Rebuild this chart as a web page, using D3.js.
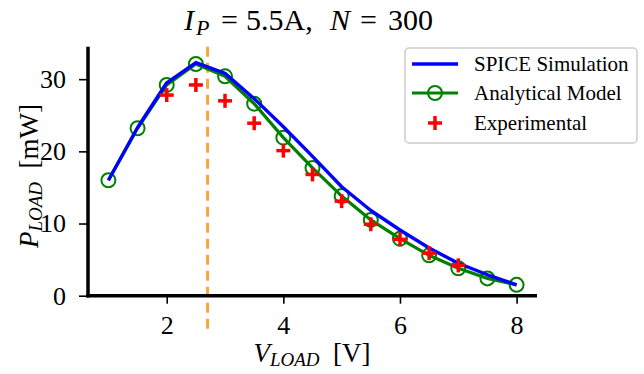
<!DOCTYPE html>
<html>
<head>
<meta charset="utf-8">
<script src="https://cdn.jsdelivr.net/npm/d3@7"></script>
<style>
  body { margin: 0; background: #fff; }
  text { font-family: 'Liberation Serif', 'DejaVu Serif', serif; fill: #000; }
</style>
</head>
<body>
<svg id="chart" width="644" height="374"></svg>
<script>
// data
var vLoad = [1, 1.5, 2, 2.5, 3, 3.5, 4, 4.5, 5, 5.5, 6, 6.5, 7, 7.5, 8];
var spice = [16.0, 23.3, 29.5, 32.3, 30.8, 27.3, 23.4, 19.3, 15.1, 11.8, 9.1, 6.6, 4.5, 2.9, 1.5];
var analytical = [16.0, 23.2, 29.2, 32.1, 30.4, 26.6, 21.9, 17.7, 13.8, 10.5, 7.9, 5.6, 3.8, 2.4, 1.5];
var expV = [2, 2.5, 3, 3.5, 4, 4.5, 5, 5.5, 6, 6.5, 7];
var experimental = [27.8, 29.2, 27.0, 23.9, 20.1, 16.8, 13.1, 9.9, 7.8, 5.9, 4.2];
var xTicks = [2, 4, 6, 8];
var yTicks = [0, 10, 20, 30];
var vOpt = 2.7;

var serif = "'Liberation Serif', 'DejaVu Serif', serif";
var svg = d3.select("#chart");

var x = d3.scaleLinear().domain([0.65, 8.35]).range([88, 537]);
var y = d3.scaleLinear().domain([0, 34.5]).range([295.7, 46.7]);

// optimum voltage marker
svg.append("line")
  .attr("x1", x(vOpt)).attr("x2", x(vOpt))
  .attr("y1", y(34.5)).attr("y2", 334)
  .attr("stroke", "#f5a83c").attr("stroke-width", 3)
  .attr("stroke-dasharray", "10,6");

// axes
var xAxis = svg.append("g").attr("transform", "translate(0," + y(0) + ")")
  .call(d3.axisBottom(x).tickValues(xTicks).tickSize(8).tickPadding(12).tickFormat(d3.format("d")));
var yAxis = svg.append("g").attr("transform", "translate(" + x(0.65) + ",0)")
  .call(d3.axisLeft(y).tickValues(yTicks).tickSize(9).tickPadding(13).tickFormat(d3.format("d")));

[xAxis, yAxis].forEach(function(g) {
  g.attr("font-family", null).attr("font-size", null);
  g.select(".domain").remove();
  g.selectAll(".tick line").attr("stroke", "#000").attr("stroke-width", 1.6);
  g.selectAll(".tick text").style("font-size", "26px").style("font-family", serif);
});

// spines
svg.append("line").attr("x1", x(0.65)).attr("x2", x(0.65)).attr("y1", y(0) + 1.75).attr("y2", y(34.5))
  .attr("stroke", "#000").attr("stroke-width", 3.5);
svg.append("line").attr("x1", x(0.65) - 1.75).attr("x2", x(8.35)).attr("y1", y(0)).attr("y2", y(0))
  .attr("stroke", "#000").attr("stroke-width", 3.5);

var line = d3.line().x(function(d) { return x(d[0]); }).y(function(d) { return y(d[1]); });

// analytical model
var anaPts = vLoad.map(function(v, i) { return [v, analytical[i]]; });
svg.append("path").datum(anaPts).attr("d", line)
  .attr("fill", "none").attr("stroke", "#008000").attr("stroke-width", 3.2);
svg.selectAll(".ana").data(anaPts).enter().append("circle")
  .attr("cx", function(d) { return x(d[0]); })
  .attr("cy", function(d) { return y(d[1]); })
  .attr("r", 7).attr("fill", "none").attr("stroke", "#008000").attr("stroke-width", 2);

// spice simulation
var spPts = vLoad.map(function(v, i) { return [v, spice[i]]; });
svg.append("path").datum(spPts).attr("d", line)
  .attr("fill", "none").attr("stroke", "#0000ff").attr("stroke-width", 3.4)
  .attr("stroke-linejoin", "round");

// experimental
function plus(g, cx, cy, s) {
  g.append("line").attr("x1", cx - s).attr("x2", cx + s).attr("y1", cy).attr("y2", cy);
  g.append("line").attr("x1", cx).attr("x2", cx).attr("y1", cy - s).attr("y2", cy + s);
}
var expG = svg.append("g").attr("stroke", "#ff0000").attr("stroke-width", 3.5);
expV.forEach(function(v, i) { plus(expG, x(v), y(experimental[i]), 7); });

// title, laid out piece by piece like mathtext
var title = svg.append("text").attr("y", 30)
  .style("font-size", "30px").style("font-family", serif);
title.append("tspan").attr("x", 184).attr("font-style", "italic").text("I");
title.append("tspan").attr("x", 196).attr("font-style", "italic").style("font-size", "22px").attr("dy", 5).text("P");
title.append("tspan").attr("x", 221).attr("dy", -5).text("=");
title.append("tspan").attr("x", 246).text("5.5A,");
title.append("tspan").attr("x", 330).attr("font-style", "italic").text("N");
title.append("tspan").attr("x", 360).text("=");
title.append("tspan").attr("x", 388).text("300");

// x label
var xl = svg.append("text").attr("x", 312).attr("y", 362).attr("text-anchor", "middle")
  .style("font-size", "27px").style("font-family", serif);
xl.append("tspan").attr("font-style", "italic").text("V");
xl.append("tspan").attr("font-style", "italic").style("font-size", "19px").attr("dy", 4).text("LOAD");
xl.append("tspan").attr("dy", -4).text("\u2002[V]");

// y label
var yl = svg.append("text").attr("transform", "translate(38,176) rotate(-90)")
  .attr("text-anchor", "middle").style("font-size", "27px").style("font-family", serif);
yl.append("tspan").attr("font-style", "italic").text("P");
yl.append("tspan").attr("font-style", "italic").style("font-size", "19px").attr("dy", 4).text("LOAD");
yl.append("tspan").attr("dy", -4).text("\u2002[mW]");

// legend
var lg = svg.append("g");
lg.append("rect").attr("x", 405).attr("y", 48).attr("width", 232).attr("height", 95)
  .attr("rx", 4).attr("fill", "#fff").attr("fill-opacity", 0.8)
  .attr("stroke", "#cccccc").attr("stroke-width", 1.5);
var rows = [64, 93, 123];
lg.append("line").attr("x1", 412).attr("x2", 458).attr("y1", rows[0]).attr("y2", rows[0])
  .attr("stroke", "#0000ff").attr("stroke-width", 3.4);
lg.append("line").attr("x1", 412).attr("x2", 458).attr("y1", rows[1]).attr("y2", rows[1])
  .attr("stroke", "#008000").attr("stroke-width", 3.2);
lg.append("circle").attr("cx", 435).attr("cy", rows[1]).attr("r", 7)
  .attr("fill", "none").attr("stroke", "#008000").attr("stroke-width", 2);
var lp = lg.append("g").attr("stroke", "#ff0000").attr("stroke-width", 3.5);
plus(lp, 435, rows[2], 7);
["SPICE Simulation", "Analytical Model", "Experimental"].forEach(function(t, i) {
  lg.append("text").attr("x", 474).attr("y", rows[i] + 7)
    .style("font-size", "21px").style("font-family", serif).text(t);
});
</script>
</body>
</html>
